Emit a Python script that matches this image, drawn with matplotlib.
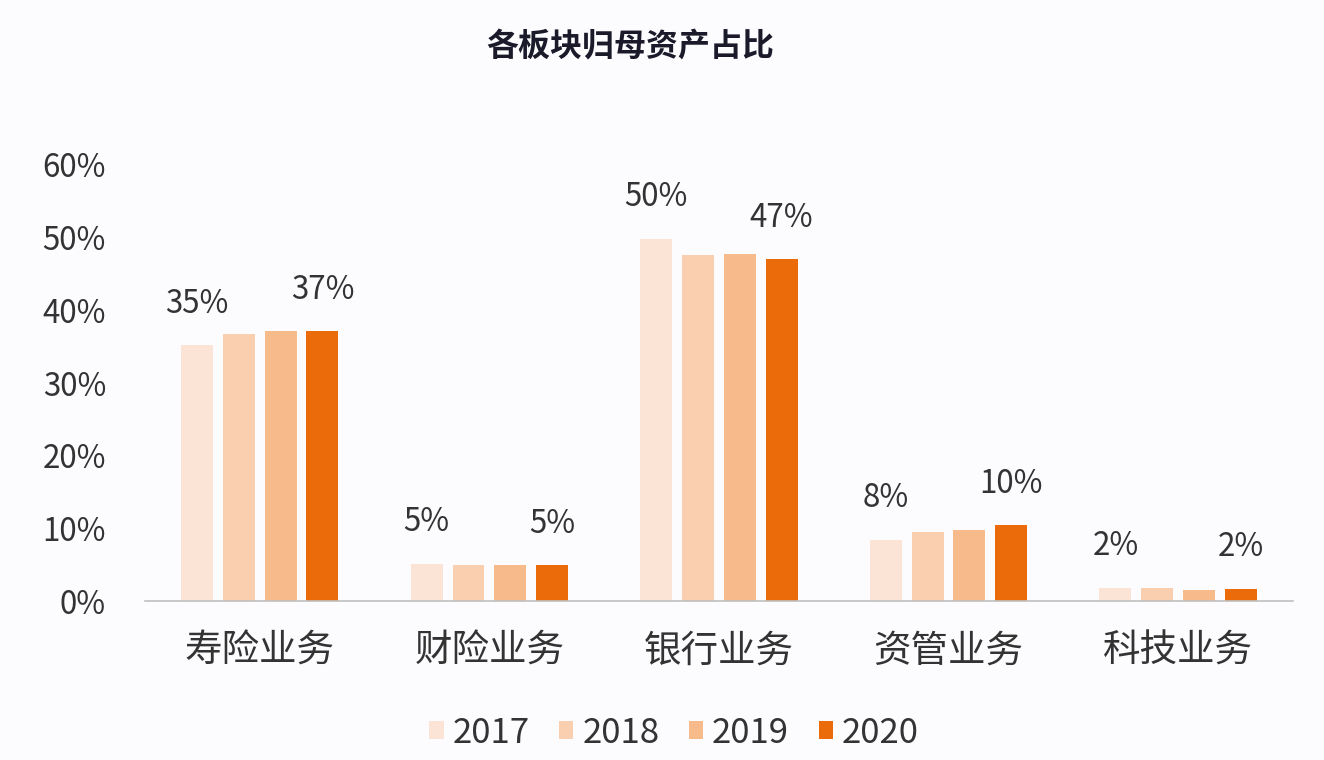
import numpy as np
import matplotlib
matplotlib.use("Agg")
import matplotlib.pyplot as plt

plt.rcParams['font.family'] = ['Noto Sans CJK SC', 'DejaVu Sans']

# Datos
categorias = ["寿险业务", "财险业务", "银行业务", "资管业务", "科技业务"]
anios = ["2017", "2018", "2019", "2020"]
v2017 = [35.2, 5.1, 49.8, 8.4, 1.8]
v2018 = [36.7, 5.0, 47.6, 9.5, 1.8]
v2019 = [37.1, 4.9, 47.7, 9.8, 1.5]
v2020 = [37.1, 4.9, 47.0, 10.4, 1.65]
series = [v2017, v2018, v2019, v2020]

colores = ["#fbe4d6", "#f9cfb0", "#f7ba8a", "#eb6a0a"]
fondo = "#fcfbfd"
texto = "#333333"

fig = plt.figure(figsize=(13.24, 7.6), dpi=100, facecolor=fondo)
ax = fig.add_axes([0.1095, 0.2092, 0.867, 0.5737], facecolor=fondo)

x = np.arange(len(categorias))
paso = 0.182
ancho = 0.139
for i, (vals, anio) in enumerate(zip(series, anios)):
    pos = x + (i - 1.5) * paso
    ax.bar(pos, vals, width=ancho, color=colores[i], label=anio, zorder=2)
    # solo se etiquetan 2017 y 2020
    if i in (0, 3):
        for xp, v in zip(pos, vals):
            ax.annotate(f"{round(v)}%", (xp, v), xytext=(0, 30),
                        textcoords="offset points", ha="center", va="center",
                        fontsize=22.5, color=texto)

ax.set_xlim(-0.5, 4.5)
ax.set_ylim(0, 60)
ax.set_yticks(range(0, 61, 10))
ax.set_yticklabels([f"{t}%" for t in range(0, 61, 10)])
ax.set_xticks(x)
ax.set_xticklabels(categorias)
ax.tick_params(axis="y", length=0, pad=28, labelsize=22.5, labelcolor=texto)
ax.tick_params(axis="x", length=0, pad=22, labelsize=27, labelcolor=texto)
for s in ["top", "right", "left"]:
    ax.spines[s].set_visible(False)
ax.spines["bottom"].set_color("#bfbfbf")
ax.spines["bottom"].set_linewidth(1.2)

fig.text(0.476, 0.938, "各板块归母资产占比", ha="center", va="center",
         fontsize=23, fontweight="bold", color="#1a1a2a")

fig.legend(loc="center", bbox_to_anchor=(0.509, 0.0355), ncol=4, frameon=False,
           fontsize=25, handlelength=0.42, handleheight=0.42, handletextpad=0.25,
           columnspacing=0.85, labelcolor=texto)

fig.savefig("out.png", dpi=100, facecolor=fondo)
